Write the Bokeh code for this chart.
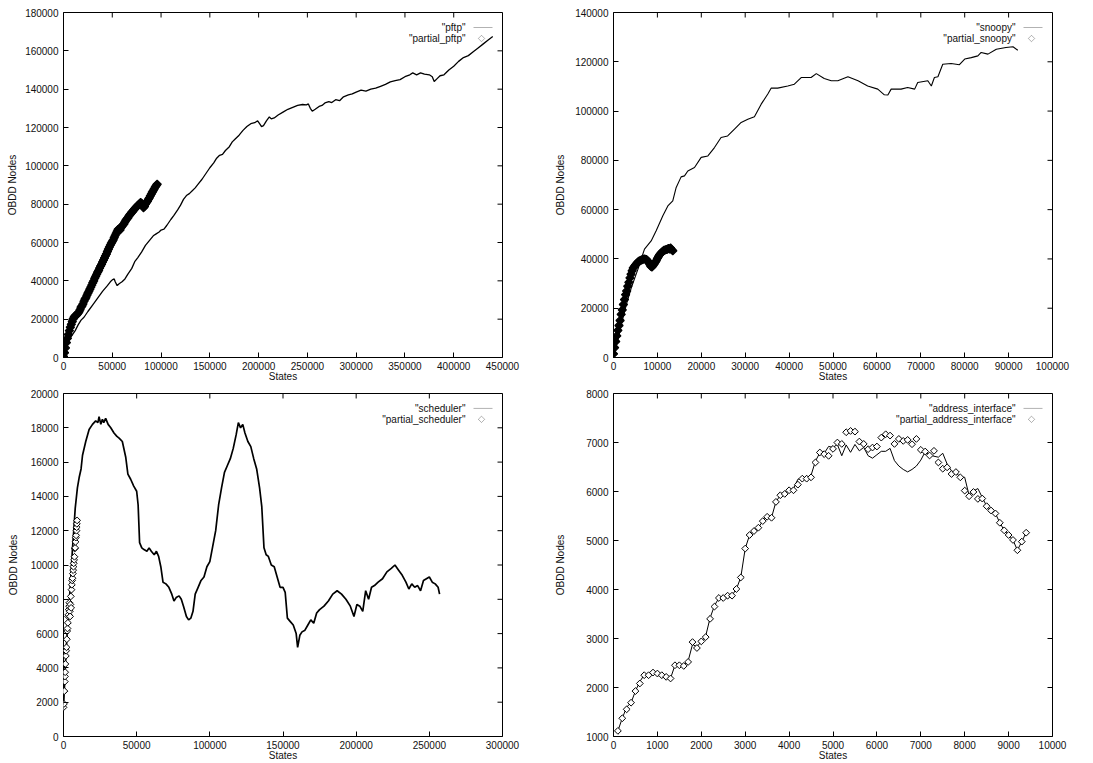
import numpy as np
from bokeh.plotting import figure
from bokeh.layouts import column, row
from bokeh.models import (FixedTicker, BasicTickFormatter, Label,
                          PolyAnnotation, Range1d)
from bokeh.embed import file_html
from bokeh.resources import INLINE

# ---------------- data ----------------
pftp_states = [0, 2000, 5000, 8000, 12000, 15000, 18000, 21000, 25000, 30000, 35000, 40000, 45000, 48000,
               50000, 52000, 53000, 55000, 57000, 60000, 63000, 66000, 70000, 73000, 76000, 80000, 84000,
               88000, 92000, 95000, 98000, 100000, 103000, 106000, 110000, 113000, 117000, 120000, 123000,
               126000, 129000, 132000, 135000, 138000, 142000, 146000, 150000, 154000, 157000, 160000,
               163000, 166000, 170000, 173000, 176000, 180000, 184000, 188000, 192000, 196000, 199000,
               201000, 203000, 205000, 208000, 211000, 213000, 216000, 220000, 225000, 230000, 235000,
               240000, 245000, 249000, 251000, 253000, 255000, 258000, 262000, 265000, 268000, 272000,
               275000, 279000, 283000, 287000, 292000, 296000, 300000, 305000, 310000, 315000, 320000,
               325000, 330000, 335000, 340000, 345000, 350000, 355000, 358000, 362000, 366000, 370000,
               375000, 378000, 380000, 383000, 386000, 390000, 395000, 400000, 405000, 410000, 415000,
               420000, 425000, 430000, 435000, 440000]
pftp_nodes = [1000, 5000, 8500, 11000, 14000, 17000, 19500, 21000, 24000, 27500, 31000, 34500, 37500, 39500,
              40500, 41000, 39500, 37500, 38500, 39500, 41000, 43500, 46500, 50000, 52000, 55000, 58500,
              61000, 63500, 64500, 65500, 66500, 67000, 69000, 72000, 74000, 77000, 79500, 82500,
              84500, 85500, 87000, 88500, 90500, 93000, 96000, 99000, 101500, 104000, 105500,
              106000, 108000, 110000, 112500, 114000, 116000, 118500, 120500, 122000, 122500, 123500,
              122000, 120500, 121000, 123500, 125500, 124500, 125000, 126500, 128000, 129500, 130500,
              131500, 132000, 131800, 132300, 130000, 128500, 129500, 131000, 131500, 132800, 133500,
              133000, 134500, 134000, 136000, 137000, 137500, 138500, 139500, 139000, 140000, 140500,
              141500, 142500, 143800, 144500, 145000, 146500, 147500, 148500, 147500, 148500, 147800,
              147500, 146500, 144000, 145500, 147000, 147500, 150000, 152000, 154500, 156500, 157500,
              159500, 161500, 163500, 165500, 167500]

ppftp_states = [0, 1000, 2000, 3000, 4000, 5000, 6000, 7000, 8000, 9000, 10000, 11000, 12000, 13000, 14000,
                15000, 16000, 17000, 18000, 19000, 20000, 21000, 22000, 23000, 24000, 25000, 26000, 27000,
                28000, 29000, 30000, 31000, 32000, 33000, 34000, 35000, 36000, 37000, 38000, 39000, 40000,
                41000, 42000, 43000, 44000, 45000, 46000, 47000, 48000, 49000, 50000, 51000, 52000, 53000,
                54000, 55000, 56000, 57000, 58000, 59000, 60000, 61000, 62000, 63000, 64000, 65000, 66000,
                67000, 68000, 69000, 70000, 71000, 72000, 73000, 74000, 75000, 76000, 77000, 78000, 79000,
                80000, 81000, 82000, 83000, 84000, 85000, 86000, 87000, 88000, 89000, 90000, 91000, 92000,
                93000, 94000, 95000, 96000]
ppftp_nodes = [500, 2500, 5000, 7800, 10000, 12000, 14000, 15800, 17300, 18800, 20200, 21200, 21800, 22000,
               22500, 23200, 23900, 25000, 26200, 27000, 28000, 29300, 30400, 31200, 32400, 33500, 34500,
               35600, 36700, 37800, 39000, 40000, 41300, 42300, 43400, 44500, 45400, 46600, 47700, 48600,
               49800, 50800, 51900, 53000, 54000, 55300, 56500, 57600, 58600, 59600, 60500, 61400, 62600,
               63700, 64800, 65800, 66800, 67200, 66600, 67800, 68500, 69200, 69800, 70800, 71600, 72300,
               72900, 73800, 74500, 75100, 75800, 76200, 77000, 77600, 78200, 78700, 79200, 79700, 80200,
               80800, 80500, 79300, 78200, 78800, 80000, 80800, 81500, 82500, 83300, 84300, 85200, 86200,
               87100, 88000, 88900, 89700, 90400]

snoopy_states = [0, 1000, 2000, 3000, 4000, 5000, 6000, 6500, 7060, 8580, 9720, 11240, 12380, 13500, 14280,
                 15400, 16170, 16930, 18450, 19970, 21500, 23000, 24500, 26000, 27560, 29080, 30600, 32100,
                 33640, 35150, 35900, 37400, 39700, 41200, 42750, 45000, 46200, 48000, 49600, 51100, 53400,
                 55700, 57900, 60200, 61700, 62500, 63250, 65500, 67000, 68600, 69300, 71600, 72400, 73100,
                 73900, 75000, 76900, 78800, 80000, 81500, 83000, 83750, 85300, 87200, 89400, 91000, 92100]
snoopy_nodes = [1000, 7000, 15000, 22000, 28000, 33000, 38000, 41000, 44000, 47300, 51400, 57500, 61500, 63600,
                69000, 73300, 73700, 75700, 77100, 81200, 81800, 85200, 89300, 89900, 92700, 95400, 96700,
                97700, 102800, 106900, 109300, 109300, 110200, 110900, 113600, 113600, 115200, 113200,
                112300, 112300, 113900, 112300, 110200, 108900, 106600, 106500, 108900, 108900, 109600,
                108900, 111600, 112300, 110200, 113600, 113900, 119000, 119300, 118800, 121100, 121700,
                122400, 123800, 123100, 125100, 125800, 126100, 124700]

psnoopy_states = [0, 250, 500, 750, 1000, 1250, 1500, 1750, 2000, 2250, 2500, 2750, 3000, 3250, 3500, 3750,
                  4000, 4250, 4500, 4750, 5000, 5250, 5500, 5750, 6000, 6250, 6500, 6750, 7000, 7250, 7500,
                  7750, 8000, 8250, 8500, 8750, 9000, 9250, 9500, 9750, 10000, 10250, 10500, 10750, 11000,
                  11250, 11500, 11750, 12000, 12250, 12500, 12750, 13000, 13250, 13500]
psnoopy_nodes = [1500, 4000, 6500, 8800, 11000, 13000, 15000, 17500, 19300, 21500, 23500, 25500, 27000, 28900,
                 30500, 32300, 33800, 35200, 36300, 37000, 37600, 38100, 38600, 39000, 39200, 39500, 39700,
                 39900, 40000, 39900, 39800, 39300, 38700, 37800, 37000, 36700, 37300, 37900, 38600, 39300,
                 40200, 41000, 41700, 42200, 42700, 43100, 43500, 43600, 43800, 43900, 44200, 44000, 44400,
                 43800, 43300]

sched_states = [0, 800, 1600, 2700, 3900, 5000, 6100, 7000, 8000, 9500, 10700, 12000, 13000, 15200, 17500,
                19800, 22000, 23500, 24300, 25500, 26600, 27500, 28800, 30500, 32300, 34500, 36500, 38000,
                40200, 42500, 44000, 45900, 48000, 50000, 51000, 52000, 53500, 55000, 57000, 58500, 60000,
                62000, 63500, 65000, 66500, 68000, 70000, 72000, 74000, 75500, 77000, 79000, 80500, 82000,
                84000, 85500, 87000, 88500, 90000, 92000, 94000, 96000, 98000, 100000, 102000, 104000,
                106000, 108000, 110000, 112000, 114000, 116000, 118000, 119500, 121000, 122500, 124000,
                126000, 128000, 130000, 132000, 134000, 135500, 137000, 138500, 140000, 142000, 144000,
                146000, 148000, 150000, 151500, 153000, 155000, 157000, 159000, 160000, 161500, 163000,
                165000, 167000, 169000, 171000, 173000, 175000, 178000, 181000, 184000, 187000, 190000,
                193000, 196000, 198500, 200500, 202500, 204500, 206500, 208500, 210500, 212500, 215000,
                218000, 221000, 224000, 226500, 229000, 231500, 234000, 236000, 238000, 240000, 242000,
                244000, 246000, 248000, 250000, 252000, 254000, 256000, 257000]
sched_nodes = [1700, 3200, 4700, 6300, 7800, 9300, 10900, 12000, 13300, 14500, 15100, 15600, 16400, 17200,
               17900, 18200, 18400, 18300, 18650, 18200, 18500, 18300, 18550, 18200, 18000, 17700, 17500,
               17400, 17200, 16300, 15300, 15000, 14600, 14300, 13500, 11300, 11000, 10900, 10800, 11000,
               10800, 10600, 10800, 10500, 9900, 9000, 8900, 8700, 8300, 7900, 8100, 8200, 8000, 7600,
               7000, 6800, 6900, 7300, 8300, 8700, 9100, 9300, 9900, 10200, 11100, 12000, 13500, 14500,
               15400, 15800, 16200, 16800, 17600, 18300, 18000, 18200, 17700, 17200, 16900, 16200, 15600,
               14500, 13400, 11000, 10600, 10500, 10000, 9900, 9300, 8700, 8700, 8400, 6900, 6700, 6500,
               6000, 5200, 5900, 6100, 6200, 6500, 6800, 6600, 7200, 7400, 7600, 7900, 8300, 8500, 8300,
               8000, 7600, 7000, 7700, 7600, 7300, 8500, 8000, 8700, 8800, 9000, 9200, 9600, 9800, 10000,
               9700, 9400, 9000, 8600, 8900, 8700, 8800, 8500, 9100, 9200, 9300, 9000, 8900, 8700, 8300]

psched_states = [0, 300, 450, 600, 900, 1000, 1140, 1300, 1600, 1800, 2050, 2270, 2500, 2730, 3000, 3200,
                 3400, 3600, 3860, 4000, 4300, 4500, 4700, 5000, 5200, 5450, 5700, 5900, 6140, 6400, 6600,
                 6800, 7000, 7270, 7500, 7700, 7950, 8200, 8400, 8600, 8860, 9000, 9100, 9300]
psched_nodes = [1700, 1900, 2630, 2650, 3200, 3500, 3750, 4230, 4700, 5000, 5200, 5670, 6150, 6300, 6630,
                7000, 7100, 7400, 7600, 7800, 7300, 7000, 7700, 8170, 7500, 8560, 8850, 9100, 9230, 9500,
                9700, 9900, 10100, 10300, 10480, 10960, 11000, 11350, 11600, 11730, 12000, 12200, 12400,
                12600]

addr_states = [100, 200, 300, 400, 500, 600, 700, 800, 900, 1000, 1100, 1200, 1300, 1400, 1500, 1600, 1700,
               1800, 1900, 2000, 2100, 2200, 2300, 2400, 2500, 2600, 2700, 2800, 2900, 3000, 3100, 3200,
               3300, 3400, 3500, 3600, 3700, 3800, 3900, 4000, 4100, 4200, 4300, 4400, 4500, 4600, 4700,
               4800, 4900, 5000, 5100, 5200, 5300, 5400, 5500, 5600, 5700, 5800, 5900, 6000, 6100, 6200,
               6300, 6400, 6500, 6600, 6700, 6800, 6900, 7000, 7100, 7200, 7300, 7400, 7500, 7600, 7700,
               7800, 7900, 8000, 8100, 8200, 8300, 8400, 8500, 8600, 8700, 8800, 8900, 9000, 9100, 9200,
               9300, 9400]
addr_nodes = [1115, 1372, 1600, 1690, 1927, 2120, 2260, 2270, 2310, 2300,
              2260, 2230, 2190, 2454, 2454, 2460, 2540, 2880, 2830, 2940,
              3050, 3420, 3670, 3827, 3840, 3880, 3880, 4010, 4250, 4835,
              5112, 5200, 5261, 5396, 5500, 5470, 5790, 5920, 5960, 6025,
              6060, 6250, 6270, 6280, 6330, 6620, 6790, 6780, 6920, 6900,
              6960, 6730, 6950, 6800, 6960, 6830, 6900, 6730, 6680, 6750,
              6820, 6820, 6880, 6630, 6520, 6450, 6400, 6450, 6520, 6640,
              6810, 6750, 6720, 6700, 6780, 6560, 6420, 6380, 6300, 6290,
              5920, 6010, 6060, 5880, 5700, 5620, 5552, 5362, 5207, 5112,
              5011, 4801, 4977, 5159]
paddr_nodes = [1115, 1372, 1555, 1690, 1927, 2082, 2251, 2251, 2305, 2285,
               2251, 2217, 2184, 2454, 2454, 2440, 2522, 2927, 2806, 2941,
               3029, 3401, 3651, 3827, 3827, 3874, 3874, 4010, 4246, 4835,
               5112, 5193, 5261, 5396, 5484, 5464, 5788, 5924, 5951, 6025,
               6025, 6140, 6262, 6262, 6289, 6593, 6796, 6762, 6728, 6870,
               6999, 6971, 7209, 7236, 7222, 7019, 6971, 6864, 6897, 6918,
               7100, 7168, 7141, 6971, 7073, 7033, 7053, 6965, 7073, 6850,
               6816, 6735, 6830, 6593, 6465, 6493, 6357, 6397, 6289, 6018,
               5903, 5991, 5849, 5856, 5700, 5612, 5552, 5362, 5207, 5112,
               5011, 4801, 4977, 5159]

# tick values
pftp_xticks = [0, 50000, 100000, 150000, 200000, 250000, 300000, 350000, 400000, 450000]
pftp_yticks = [0, 20000, 40000, 60000, 80000, 100000, 120000, 140000, 160000, 180000]
snoopy_xticks = [0, 10000, 20000, 30000, 40000, 50000, 60000, 70000, 80000, 90000, 100000]
snoopy_yticks = [0, 20000, 40000, 60000, 80000, 100000, 120000, 140000]
sched_xticks = [0, 50000, 100000, 150000, 200000, 250000, 300000]
sched_yticks = [0, 2000, 4000, 6000, 8000, 10000, 12000, 14000, 16000, 18000, 20000]
addr_xticks = [0, 1000, 2000, 3000, 4000, 5000, 6000, 7000, 8000, 9000, 10000]
addr_yticks = [1000, 2000, 3000, 4000, 5000, 6000, 7000, 8000]

legend_names = [('"pftp"', '"partial_pftp"'),
                ('"snoopy"', '"partial_snoopy"'),
                ('"scheduler"', '"partial_scheduler"'),
                ('"address_interface"', '"partial_address_interface"')]

# ---------------- styling ----------------
FONT = "Liberation Sans"
FS = "10px"
TXT = "#111111"
FW, FH = 439, 345
TICK = 5


def make_fig(xr, yr, xticks, yticks, width, height, bl, br, bt, bb, yl_standoff):
    p = figure(width=width, height=height, x_range=Range1d(*xr), y_range=Range1d(*yr),
               output_backend="svg", toolbar_location=None,
               min_border_left=bl, min_border_right=br, min_border_top=bt, min_border_bottom=bb)
    p.xgrid.visible = False
    p.ygrid.visible = False
    p.outline_line_color = "black"
    p.outline_line_alpha = 1.0
    p.outline_line_width = 1
    for ax, ticks in ((p.xaxis[0], xticks), (p.yaxis[0], yticks)):
        ax.ticker = FixedTicker(ticks=ticks)
        ax.formatter = BasicTickFormatter(use_scientific=False)
        ax.major_tick_in = TICK
        ax.major_tick_out = 0
        ax.minor_tick_line_color = None
        ax.axis_line_color = None
        ax.major_tick_line_color = "black"
        ax.major_label_text_font = FONT
        ax.major_label_text_font_size = FS
        ax.major_label_text_color = TXT
        ax.axis_label_text_font = FONT
        ax.axis_label_text_font_size = FS
        ax.axis_label_text_font_style = "normal"
        ax.axis_label_text_color = TXT
    p.xaxis.axis_label = "States"
    p.yaxis.axis_label = "OBDD Nodes"
    p.xaxis.major_label_standoff = 4
    p.xaxis.axis_label_standoff = -2
    p.yaxis.major_label_standoff = 5
    p.yaxis.axis_label_standoff = yl_standoff
    # mirrored inward ticks on the top and right frame edges (gnuplot style)
    sx = (xr[1] - xr[0]) / FW
    sy = (yr[1] - yr[0]) / FH
    p.segment(x0=xticks, y0=[yr[1]] * len(xticks), x1=xticks, y1=[yr[1] - TICK * sy] * len(xticks),
              line_color="black", line_width=1)
    p.segment(x0=[xr[1]] * len(yticks), y0=yticks, x1=[xr[1] - TICK * sx] * len(yticks), y1=yticks,
              line_color="black", line_width=1)
    return p


def add_legend(p, xr, yr, names):
    sx = (xr[1] - xr[0]) / FW
    sy = (yr[1] - yr[0]) / FH
    for i, txt in enumerate(names):
        yc = yr[1] - (15 + 11 * i) * sy
        p.add_layout(Label(x=xr[1] - 37 * sx, y=yc, text=txt, text_align="right",
                           text_baseline="middle", text_font=FONT, text_font_size=FS,
                           text_color=TXT))
        if i == 0:
            p.add_layout(PolyAnnotation(xs=[xr[1] - 29 * sx, xr[1] - 10 * sx], ys=[yc, yc],
                                        fill_alpha=0, line_color="black", line_width=1))
        else:
            xc = xr[1] - 21 * sx
            r = 3.2
            p.add_layout(PolyAnnotation(xs=[xc - r * sx, xc, xc + r * sx, xc],
                                        ys=[yc, yc + r * sy, yc, yc - r * sy],
                                        fill_color="white", fill_alpha=1,
                                        line_color="black", line_width=1))


def add_series(p, xs, ys, pxs, pys, lw, dense):
    p.line(xs, ys, line_color="black", line_width=lw)
    if dense:
        p.scatter(pxs, pys, marker="square", angle=np.pi / 4, size=5.8,
                  fill_color="black", line_color="black", line_width=1.2)
    else:
        p.scatter(pxs, pys, marker="square", angle=np.pi / 4, size=4.8,
                  fill_color="white", line_color="black", line_width=1)


r1 = ((0, 450000), (0, 180000))
p1 = make_fig(*r1, pftp_xticks, pftp_yticks, 546, 389, 63, 44, 12, 32, 4)
add_series(p1, pftp_states, pftp_nodes, ppftp_states, ppftp_nodes, 1.3, True)
add_legend(p1, *r1, legend_names[0])

r2 = ((0, 100000), (0, 140000))
p2 = make_fig(*r2, snoopy_xticks, snoopy_yticks, 547, 389, 67, 41, 12, 32, 6)
add_series(p2, snoopy_states, snoopy_nodes, psnoopy_states, psnoopy_nodes, 1.1, True)
add_legend(p2, *r2, legend_names[1])

r3 = ((0, 300000), (0, 20000))
p3 = make_fig(*r3, sched_xticks, sched_yticks, 546, 374, 63, 44, 4, 25, 9)
add_series(p3, sched_states, sched_nodes, psched_states, psched_nodes, 1.7, False)
add_legend(p3, *r3, legend_names[2])

r4 = ((0, 10000), (1000, 8000))
p4 = make_fig(*r4, addr_xticks, addr_yticks, 547, 374, 67, 41, 4, 25, 17)
add_series(p4, addr_states, addr_nodes, addr_states, paddr_nodes, 1.0, False)
add_legend(p4, *r4, legend_names[3])

layout = column(row(p1, p2), row(p3, p4))
open("out.html", "w").write(file_html(layout, INLINE))
